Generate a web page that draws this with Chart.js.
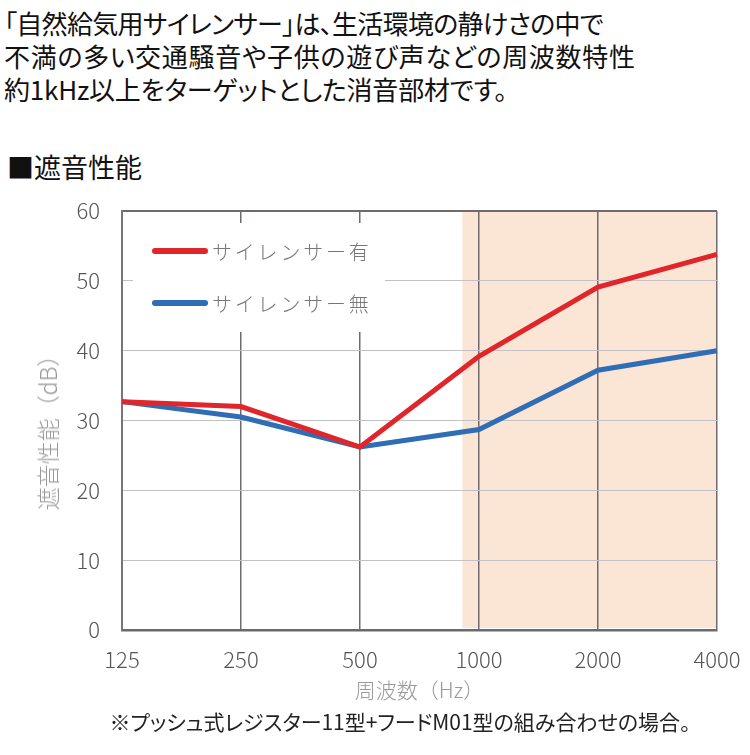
<!DOCTYPE html>
<html lang="ja">
<head>
<meta charset="utf-8">
<script src="https://cdn.jsdelivr.net/npm/chart.js@4.4.0/dist/chart.umd.min.js"></script>
<style>
  body { margin: 0; width: 750px; height: 755px; background: #fff; position: relative; overflow: hidden;
         font-family: "Noto Sans CJK JP", sans-serif; }
  .lead { position: absolute; left: 4px; top: 6px; font-size: 26px; line-height: 33px; color: #111;
          font-feature-settings: "palt"; white-space: nowrap; }
  .lead span { display: block; }
  .head { position: absolute; left: 7px; top: 150px; font-size: 27px; line-height: 34px; color: #111; }
  #wrap { position: absolute; left: 0; top: 190px; width: 750px; height: 520px; }
  .ytitle { position: absolute; left: 47px; top: 427px; transform: translate(-50%, -50%) rotate(-90deg);
            font-size: 23px; font-weight: 300; color: #999; white-space: nowrap; }
  .note { position: absolute; left: 0; top: 706px; width: 800px; text-align: center; font-size: 21px;
          color: #222; font-feature-settings: "palt"; }
</style>
</head>
<body>
<div class="lead">
  <span style="letter-spacing:-0.7px">「自然給気用サイレンサー」は、生活環境の静けさの中で</span>
  <span style="letter-spacing:0.7px">不満の多い交通騒音や子供の遊び声などの周波数特性</span>
  <span style="letter-spacing:-0.2px">約1kHz以上をターゲットとした消音部材です。</span>
</div>
<div class="head">■遮音性能</div>
<div id="wrap"><canvas id="line-chartcanvas"></canvas></div>
<div class="ytitle">遮音性能（dB）</div>
<div class="note">※プッシュ式レジスター11型+フードM01型の組み合わせの場合。</div>
<script>
var labels = ['125', '250', '500', '1000', '2000', '4000'];
var withSilencer = [32.7, 32.0, 26.2, 39.2, 49.1, 53.8];
var withoutSilencer = [32.7, 30.5, 26.2, 28.7, 37.2, 40.0];
var seriesNames = ['サイレンサー有', 'サイレンサー無'];
var yMin = 0, yMax = 60, yStep = 10;
var shadeFrom = 2.86; // category index where the 1kHz+ band starts

// peach band behind the grid
var shadePlugin = {
	id : 'shade',
	beforeDraw : function(chart) {
		var x = chart.scales.x, y = chart.scales.y, ctx = chart.ctx;
		var left = x.getPixelForValue(shadeFrom);
		var right = x.getPixelForValue(labels.length - 1);
		var top = y.getPixelForValue(yMax), bottom = y.getPixelForValue(yMin);
		ctx.save();
		ctx.fillStyle = '#fbe5d5';
		ctx.fillRect(left, top, right - left, bottom - top - 2);
		ctx.restore();
	}
};

// legend inside the plot, on a white box
var legendPlugin = {
	id : 'boxLegend',
	afterDatasetsDraw : function(chart) {
		var ctx = chart.ctx, a = chart.chartArea;
		ctx.save();
		ctx.fillStyle = '#fff';
		ctx.fillRect(a.left + 11, a.top + 12, 252, 109);
		ctx.font = '300 20px "Noto Sans CJK JP"';
		ctx.letterSpacing = '2.8px';
		ctx.textBaseline = 'middle';
		chart.data.datasets.forEach(function(ds, i) {
			var ly = a.top + 40 + i * 52;
			ctx.strokeStyle = ds.borderColor;
			ctx.lineWidth = 6;
			ctx.lineCap = 'round';
			ctx.beginPath();
			ctx.moveTo(a.left + 33, ly);
			ctx.lineTo(a.left + 83, ly);
			ctx.stroke();
			ctx.fillStyle = '#777';
			ctx.fillText(ds.label, a.left + 90, ly + 1);
		});
		ctx.restore();
	}
};

var ctx = document.getElementById('line-chartcanvas');

var data = {
	labels : labels,
	datasets : [
		{
			label : seriesNames[0],
			data : withSilencer,
			borderColor : '#e0262b',
			backgroundColor : '#e0262b',
			borderWidth : 5,
			fill : false,
			tension : 0,
			pointRadius : 0
		},
		{
			label : seriesNames[1],
			data : withoutSilencer,
			borderColor : '#2f6db5',
			backgroundColor : '#2f6db5',
			borderWidth : 5,
			fill : false,
			tension : 0,
			pointRadius : 0
		}
	]
};

var tickFont = { family : '"Noto Sans CJK JP", sans-serif', size : 22, weight : '300' };

var options = {
	responsive : true,
	maintainAspectRatio : false,
	animation : false,
	devicePixelRatio : 1,
	layout : { padding : { top : 21, right : 33, left : 0, bottom : 0 } },
	plugins : {
		legend : { display : false },
		tooltip : { enabled : false }
	},
	scales : {
		x : {
			grid : { color : '#6e6a70', lineWidth : 1.5, drawTicks : false },
			border : { color : '#6a6a6a', width : 2.5 },
			ticks : { font : tickFont, color : '#555', padding : 16, maxRotation : 0 },
			title : {
				display : true,
				text : '周波数（Hz）',
				color : '#999',
				font : { family : '"Noto Sans CJK JP", sans-serif', size : 21, weight : '300' },
				padding : { top : 0, bottom : 7 }
			},
			afterFit : function(scale) {
				scale.height = 80;
				scale.paddingLeft = 0;
				scale.paddingRight = 0;
			}
		},
		y : {
			min : yMin,
			max : yMax,
			grid : {
				color : function(c) { return c.tick && c.tick.value === yMax ? '#6e6a70' : '#c4c0c8'; },
				lineWidth : function(c) { return c.tick && c.tick.value === yMax ? 2 : 1; },
				drawTicks : false
			},
			border : { color : '#777', width : 2 },
			ticks : { stepSize : yStep, font : tickFont, color : '#555', padding : 22 },
			afterFit : function(scale) {
				scale.width = 122;
				scale.paddingTop = 0;
				scale.paddingBottom = 0;
			}
		}
	}
};

var chart = new Chart(ctx, {
	type : 'line',
	data : data,
	options : options,
	plugins : [shadePlugin, legendPlugin]
});
</script>
</body>
</html>
